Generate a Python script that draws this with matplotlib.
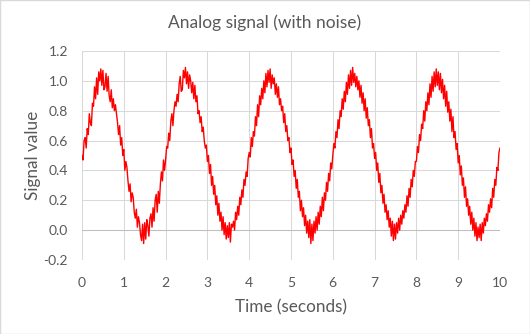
import matplotlib
matplotlib.use("Agg")
import matplotlib.pyplot as plt
from matplotlib.patches import Rectangle

step = 0.025
period1 = [0.50, 0.47, 0.60, 0.62, 0.55, 0.68, 0.64, 0.78, 0.72, 0.70, 0.85, 0.83, 0.96, 0.88, 1.02, 0.91, 1.06, 1.00, 1.08, 0.97,
           1.07, 0.94, 0.96, 1.05, 0.93, 1.03, 0.90, 0.86, 0.94, 0.82, 0.88, 0.80, 0.84, 0.78, 0.72, 0.64, 0.70, 0.57, 0.62, 0.50,
           0.54, 0.40, 0.46, 0.42, 0.33, 0.26, 0.31, 0.19, 0.25, 0.22, 0.12, 0.08, 0.14, 0.02, 0.09, 0.05, -0.03, -0.07, 0.04, -0.09,
           0.05, -0.06, 0.07, 0.03, -0.04, 0.08, 0.11, 0.02, 0.15, 0.06, 0.20, 0.24, 0.12, 0.26, 0.18, 0.31, 0.39, 0.33, 0.47, 0.40]
period2 = [0.47, 0.56, 0.55, 0.65, 0.60, 0.73, 0.78, 0.70, 0.80, 0.86, 0.83, 0.91, 0.86, 0.98, 1.03, 0.93, 0.94, 1.07, 1.02, 1.09,
           0.98, 1.06, 0.95, 1.04, 1.00, 0.92, 0.99, 0.88, 0.97, 0.86, 0.90, 0.78, 0.80, 0.72, 0.76, 0.66, 0.69, 0.60, 0.55, 0.57,
           0.46, 0.50, 0.38, 0.44, 0.30, 0.36, 0.24, 0.30, 0.17, 0.23, 0.10, 0.18, 0.06, 0.12, 0.00, 0.09, -0.03, 0.05, -0.06, 0.03,
           -0.05, 0.05, -0.08, 0.04, 0.02, 0.06, 0.00, 0.12, 0.07, 0.16, 0.10, 0.22, 0.17, 0.27, 0.22, 0.34, 0.30, 0.39, 0.36, 0.48]
period3 = [0.52, 0.49, 0.62, 0.56, 0.66, 0.63, 0.76, 0.70, 0.84, 0.76, 0.90, 0.84, 0.95, 0.88, 1.00, 0.92, 1.05, 0.96, 1.07, 0.99,
           1.08, 0.95, 1.04, 0.98, 1.02, 0.91, 0.98, 0.89, 0.96, 0.84, 0.88, 0.80, 0.83, 0.72, 0.78, 0.66, 0.70, 0.60, 0.62, 0.52,
           0.55, 0.44, 0.47, 0.36, 0.40, 0.28, 0.34, 0.22, 0.26, 0.13, 0.20, 0.09, 0.15, 0.03, 0.10, -0.02, 0.06, -0.05, 0.07, -0.09,
           0.04, -0.07, 0.06, -0.02, 0.09, 0.00, 0.12, 0.04, 0.16, 0.09, 0.22, 0.13, 0.25, 0.20, 0.32, 0.26, 0.38, 0.33, 0.45, 0.41]
period4 = [0.50, 0.58, 0.55, 0.66, 0.62, 0.74, 0.68, 0.80, 0.76, 0.88, 0.81, 0.93, 0.86, 0.99, 0.91, 1.04, 0.95, 1.07, 0.97, 1.09,
           0.99, 1.05, 0.96, 1.03, 0.94, 1.00, 0.89, 0.97, 0.85, 0.92, 0.80, 0.88, 0.75, 0.82, 0.70, 0.74, 0.62, 0.68, 0.55, 0.58,
           0.48, 0.52, 0.40, 0.45, 0.32, 0.38, 0.25, 0.30, 0.18, 0.24, 0.12, 0.17, 0.07, 0.13, 0.02, 0.08, -0.04, 0.06, -0.07, 0.04,
           -0.06, 0.05, -0.02, 0.08, 0.00, 0.10, 0.04, 0.13, 0.08, 0.17, 0.12, 0.23, 0.16, 0.28, 0.22, 0.34, 0.29, 0.40, 0.36, 0.46]
period5 = [0.46, 0.56, 0.52, 0.64, 0.60, 0.71, 0.68, 0.80, 0.73, 0.86, 0.80, 0.92, 0.84, 0.98, 0.89, 1.03, 0.93, 1.06, 0.96, 1.08,
           0.97, 1.06, 0.94, 1.05, 0.92, 1.01, 0.88, 0.97, 0.83, 0.93, 0.79, 0.86, 0.73, 0.81, 0.66, 0.76, 0.62, 0.66, 0.54, 0.58,
           0.45, 0.50, 0.37, 0.43, 0.30, 0.35, 0.22, 0.29, 0.16, 0.21, 0.10, 0.16, 0.04, 0.12, 0.00, 0.08, -0.04, 0.05, -0.07, 0.02,
           -0.05, 0.04, -0.07, 0.05, -0.02, 0.08, 0.03, 0.11, 0.06, 0.17, 0.12, 0.21, 0.15, 0.28, 0.22, 0.34, 0.30, 0.42, 0.40, 0.52]
last_value = [0.55]

signal = period1 + period2 + period3 + period4 + period5 + last_value
time = [round(i * step, 3) for i in range(len(signal))]

x_ticks = list(range(0, 11))
y_ticks = [-0.2, 0.0, 0.2, 0.4, 0.6, 0.8, 1.0, 1.2]

plt.rcParams['font.family'] = ['Lato', 'DejaVu Sans']
txt = '#595959'
grid = '#d9d9d9'

fig = plt.figure(figsize=(5.30, 3.34), dpi=100)
fig.patches.append(Rectangle((0, 0), 1, 1, transform=fig.transFigure, fill=False,
                             edgecolor='#d9d9d9', linewidth=1.0))
ax = fig.add_axes([82/530, 1 - 260/334, (500 - 82)/530, (260 - 51)/334])

ax.set_xlim(0, 10)
ax.set_ylim(-0.2, 1.2)
ax.set_xticks(x_ticks)
ax.set_yticks(y_ticks)
ax.set_yticklabels([f"{v:.1f}" for v in y_ticks])
ax.grid(True, color=grid, linewidth=0.75)
ax.set_axisbelow(True)
for s in ax.spines.values():
    s.set_visible(False)
ax.axhline(0, color='#bfbfbf', linewidth=0.75, zorder=1)
ax.tick_params(length=0, colors=txt, labelsize=10)
ax.tick_params(axis='x', pad=12)
ax.tick_params(axis='y', pad=10)

ax.plot(time, signal, color='#ff0000', linewidth=1.0, zorder=3)

fig.text(0.5, 1 - 23/334, 'Analog signal (with noise)', color=txt, fontsize=12.5,
         ha='center', va='center')
ax.set_xlabel('Time (seconds)', color=txt, fontsize=12.3, labelpad=8)
ax.set_ylabel('Signal value', color=txt, fontsize=12.3, labelpad=2)

fig.savefig('out.png', dpi=100)
